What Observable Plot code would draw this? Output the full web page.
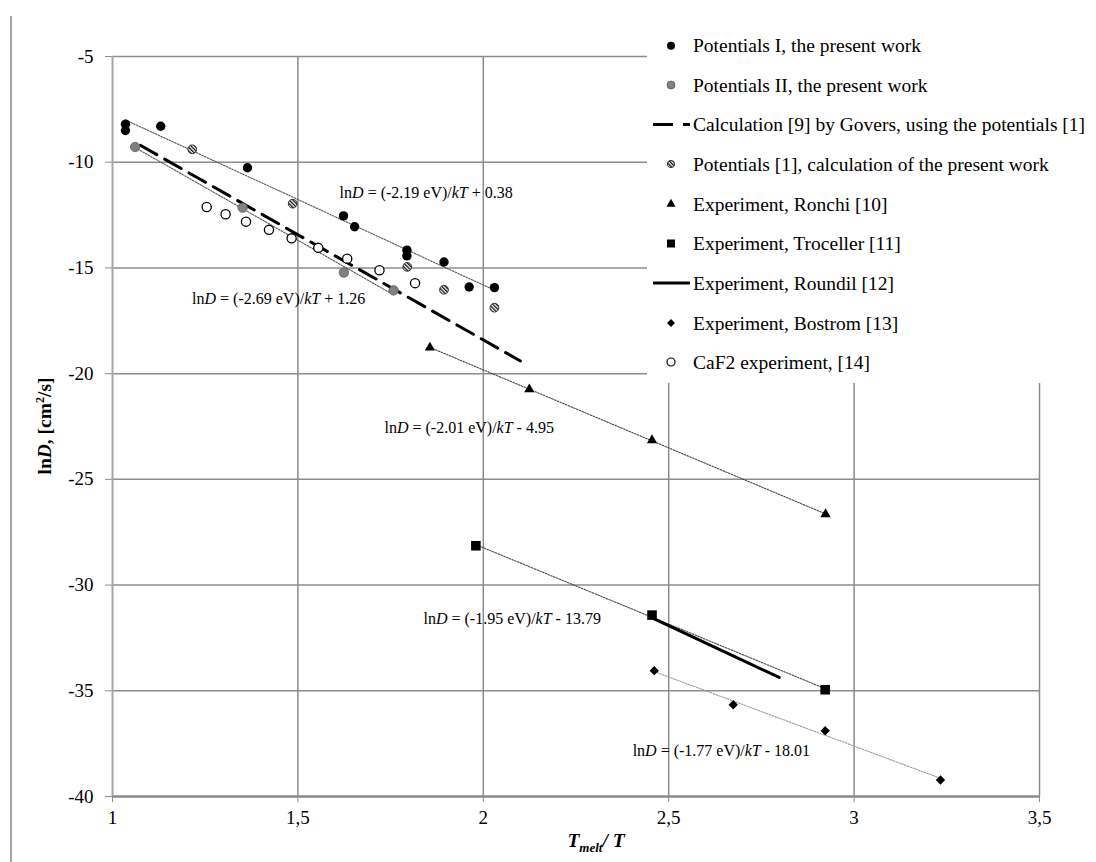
<!DOCTYPE html>
<html><head><meta charset="utf-8">
<script src="https://cdn.jsdelivr.net/npm/d3@7"></script>
<script src="https://cdn.jsdelivr.net/npm/@observablehq/plot@0.6"></script>
<style>
html,body{margin:0;padding:0;background:#fff;}
#wrap{position:relative;width:1096px;height:862px;overflow:hidden;font-family:"Liberation Serif","Times New Roman",serif;background:#fff;}
#wrap svg, #wrap svg text{font-family:"Liberation Serif","Times New Roman",serif !important;}
#chart{position:absolute;left:0;top:0;}
#border{position:absolute;left:10px;top:16px;width:0;height:846px;border-left:2px solid #a6a6a6;}
#overlay{position:absolute;left:0;top:0;}
</style></head><body>
<div id="wrap"><div id="chart"></div><div id="border"></div><svg id="overlay" width="1096" height="862"></svg></div>
<script>
// ---- ticks ----
const xTicks = [1, 1.5, 2, 2.5, 3, 3.5];
const yTicks = [-40, -35, -30, -25, -20, -15, -10, -5];

// ---- series (x = Tmelt/T, y = lnD) ----
const potentialsI = [[1.035,-8.2],[1.035,-8.5],[1.13,-8.3],[1.364,-10.26],[1.623,-12.54],[1.653,-13.05],[1.794,-14.16],[1.794,-14.43],[1.894,-14.72],[1.962,-15.9],[2.03,-15.93]];
const potentialsII = [[1.061,-9.28],[1.351,-12.15],[1.624,-15.22],[1.758,-16.06]];
const potentials1Calc = [[1.215,-9.39],[1.486,-11.96],[1.795,-14.95],[1.894,-16.03],[2.03,-16.88]];
const govers = [[1.075,-9.2],[2.1,-19.4]];
const ronchi = [[1.856,-18.77],[2.124,-20.74],[2.455,-23.15],[2.923,-26.65]];
const troceller = [[1.98,-28.14],[2.455,-31.42],[2.922,-34.95]];
const roundil = [[2.461,-31.6],[2.668,-33.3],[2.798,-34.37]];
const bostrom = [[2.461,-34.05],[2.674,-35.66],[2.922,-36.89],[3.233,-39.22]];
const caf2 = [[1.254,-12.12],[1.305,-12.46],[1.36,-12.81],[1.422,-13.2],[1.483,-13.6],[1.555,-14.05],[1.633,-14.56],[1.72,-15.11],[1.816,-15.72]];

// ---- equation annotations (anchored in data units) ----
const eqText = ["lnD = (-2.19 eV)/kT + 0.38","lnD = (-2.69 eV)/kT + 1.26","lnD = (-2.01 eV)/kT - 4.95","lnD = (-1.95 eV)/kT - 13.79","lnD = (-1.77 eV)/kT - 18.01"];
const eqX = [1.846, 1.448, 1.962, 2.078, 2.642];
const eqY = [-11.44, -16.46, -22.56, -31.59, -37.83];

// ---- legend ----
const legendLabels = ["Potentials I, the present work","Potentials II, the present work","Calculation [9] by Govers, using the potentials [1]","Potentials [1], calculation of the present work","Experiment, Ronchi [10]","Experiment, Troceller [11]","Experiment, Roundil [12]","Experiment, Bostrom [13]","CaF2 experiment, [14]"];

const SERIF = '"Liberation Serif", "Times New Roman", serif';
const X = d => d[0], Y = d => d[1];
const eqData = eqText.map((t, i) => ({t, x: eqX[i], y: eqY[i]}));
const diamond = d3.symbolDiamond2 || "diamond";
const trend = (data, stroke) => Plot.linearRegressionY(data, {x: X, y: Y, ci: 0, stroke, strokeWidth: 1.1, strokeDasharray: "1.6 1.4"});

const plot = Plot.plot({
  width: 1096, height: 862,
  marginLeft: 112, marginRight: 57, marginTop: 56, marginBottom: 66,
  style: {fontFamily: SERIF, fontSize: "19px", color: "#000", background: "transparent", overflow: "visible"},
  x: {domain: [1, 3.5], ticks: xTicks, tickFormat: d => String(d).replace(".", ","), tickSize: 6, tickPadding: 8, label: null},
  y: {domain: [-40, -5], ticks: yTicks, tickFormat: d => String(d), tickSize: 7, tickPadding: 12, label: null},
  marks: [
    Plot.ruleY(yTicks.filter(d => d > -40), {stroke: "#8c8c8c", strokeWidth: 1.5}),
    Plot.ruleX(xTicks.filter(d => d > 1), {stroke: "#8c8c8c", strokeWidth: 1.5}),
    Plot.ruleX([1], {stroke: "#a6a6a6", strokeWidth: 2}),
    Plot.ruleY([-40], {stroke: "#8a8a8a", strokeWidth: 2.5}),
    trend(potentialsI, "#555"),
    trend(potentialsII, "#555"),
    trend(ronchi, "#444"),
    trend(troceller, "#444"),
    trend(bostrom, "#9a9a9a"),
    Plot.line(govers, {x: X, y: Y, stroke: "#000", strokeWidth: 3, strokeDasharray: "19 9"}),
    Plot.line(roundil, {x: X, y: Y, stroke: "#000", strokeWidth: 3}),
    Plot.dot(potentialsI, {x: X, y: Y, r: 4.7, fill: "#000", stroke: "none"}),
    Plot.dot(potentialsII, {x: X, y: Y, r: 4.7, fill: "#808080", stroke: "#5a5a5a", strokeWidth: 0.8}),
    Plot.dot(potentials1Calc, {x: X, y: Y, r: 4.4, fill: "url(#hatch)", stroke: "#222", strokeWidth: 0.9}),
    Plot.dot(caf2, {x: X, y: Y, r: 4.6, fill: "#fff", stroke: "#000", strokeWidth: 1.3}),
    Plot.dot(ronchi, {x: X, y: Y, symbol: "triangle", r: 3.8, fill: "#000", stroke: "none"}),
    Plot.dot(troceller, {x: X, y: Y, symbol: "square", r: 5.4, fill: "#000", stroke: "none"}),
    Plot.dot(bostrom, {x: X, y: Y, symbol: diamond, r: 4.2, fill: "#000", stroke: "none"}),
    Plot.text(eqData, {x: "x", y: "y", text: "t", fontSize: 16, fill: "#000"})
  ]
});
document.getElementById("chart").appendChild(plot);

// style ticks gray, force serif, italicize equation variables
const psvg = d3.select(plot.tagName.toLowerCase() === "svg" ? plot : plot.querySelector("svg"));
psvg.selectAll('[aria-label="x-axis tick"], [aria-label="y-axis tick"]').attr("stroke", "#8c8c8c");
psvg.selectAll("text").style("font-family", SERIF);
psvg.selectAll('[aria-label="x-axis tick label"], [aria-label="y-axis tick label"]').attr("font-size", 19).style("font-size", "19px");
psvg.selectAll("text").each(function() {
  const s = this.textContent;
  if (!s.startsWith("lnD")) return;
  const el = d3.select(this);
  el.text("");
  s.split(/(D|kT)/).forEach(p => {
    if (!p) return;
    const ts = el.append("tspan").text(p);
    if (p === "D" || p === "kT") ts.attr("font-style", "italic");
  });
});

// ---- overlay: legend, axis titles ----
const ov = d3.select("#overlay");
const defs = ov.append("defs");
const pat = defs.append("pattern").attr("id", "hatch").attr("patternUnits", "userSpaceOnUse")
  .attr("width", 2.6).attr("height", 2.6).attr("patternTransform", "rotate(-45)");
pat.append("rect").attr("width", 2.6).attr("height", 2.6).attr("fill", "#fff");
pat.append("rect").attr("width", 1.3).attr("height", 2.6).attr("fill", "#111");

ov.append("rect").attr("x", 647).attr("y", 0).attr("width", 449).attr("height", 383).attr("fill", "#fff");
const legY = [45.7, 85, 124.5, 164, 204, 243.5, 283, 323, 362];
const mx = 671;
const sym = (type, size) => d3.symbol(type, size)();
legendLabels.forEach((lab, i) => {
  const y = legY[i];
  const g = ov.append("g");
  if (i === 0) g.append("circle").attr("cx", mx).attr("cy", y).attr("r", 4).attr("fill", "#000");
  if (i === 1) g.append("circle").attr("cx", mx).attr("cy", y).attr("r", 4).attr("fill", "#808080").attr("stroke", "#5a5a5a").attr("stroke-width", 0.8);
  if (i === 2) g.append("line").attr("x1", 653).attr("x2", 690).attr("y1", y).attr("y2", y).attr("stroke", "#000").attr("stroke-width", 3).attr("stroke-dasharray", "20 10");
  if (i === 3) g.append("circle").attr("cx", mx).attr("cy", y).attr("r", 3.6).attr("fill", "url(#hatch)").attr("stroke", "#222").attr("stroke-width", 0.9);
  if (i === 4) g.append("path").attr("d", sym(d3.symbolTriangle, 36)).attr("transform", `translate(${mx},${y})`).attr("fill", "#000");
  if (i === 5) g.append("path").attr("d", sym(d3.symbolSquare, 64)).attr("transform", `translate(${mx},${y})`).attr("fill", "#000");
  if (i === 6) g.append("line").attr("x1", 653).attr("x2", 690).attr("y1", y).attr("y2", y).attr("stroke", "#000").attr("stroke-width", 3);
  if (i === 7) g.append("path").attr("d", sym(d3.symbolDiamond2 || d3.symbolDiamond, 40)).attr("transform", `translate(${mx},${y})`).attr("fill", "#000");
  if (i === 8) g.append("circle").attr("cx", mx).attr("cy", y).attr("r", 4).attr("fill", "#fff").attr("stroke", "#000").attr("stroke-width", 1.2);
  g.append("text").attr("x", 693).attr("y", y).attr("dy", "0.34em")
    .style("font-family", SERIF).attr("font-size", 19.5).attr("fill", "#000").text(lab);
});

// y-axis title
const yt = ov.append("text").attr("transform", "translate(51,426) rotate(-90)").attr("text-anchor", "middle")
  .style("font-family", SERIF).attr("font-size", 19.5).attr("font-weight", "bold").attr("fill", "#000");
yt.append("tspan").text("ln");
yt.append("tspan").attr("font-style", "italic").text("D");
yt.append("tspan").text(", [cm");
yt.append("tspan").attr("font-size", 12).attr("dy", -7).text("2");
yt.append("tspan").attr("dy", 7).text("/s]");

// x-axis title
const xt = ov.append("text").attr("x", 596).attr("y", 847).attr("text-anchor", "middle")
  .style("font-family", SERIF).attr("font-size", 19.5).attr("font-weight", "bold").attr("font-style", "italic").attr("fill", "#000");
xt.append("tspan").text("T");
xt.append("tspan").attr("font-size", 13).attr("dy", 5).text("melt");
xt.append("tspan").attr("dy", -5).text("/ T");
</script>
</body></html>
